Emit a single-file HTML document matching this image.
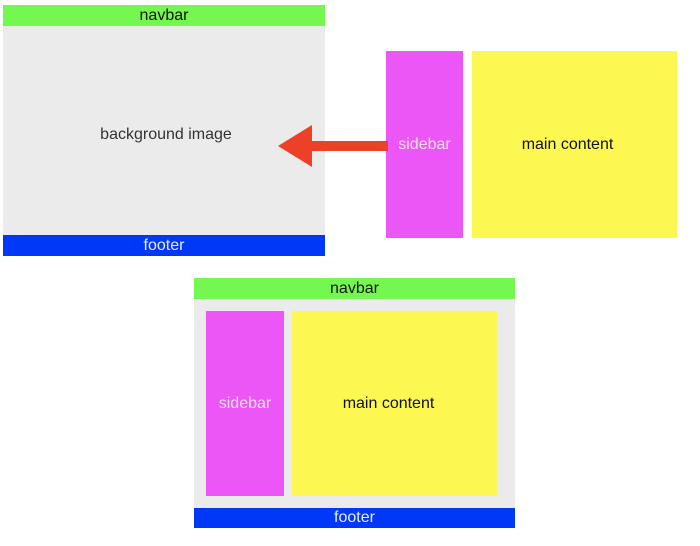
<!DOCTYPE html>
<html><head><style>
body{margin:0;width:700px;height:546px;background:#fff;position:relative;overflow:hidden;font-family:"Liberation Sans","DejaVu Sans",sans-serif;font-size:16px}
div{position:absolute;box-sizing:border-box;display:flex;align-items:center;justify-content:center}
.nav{background:#74f74f;color:#111}
.gray{background:#ebebeb;color:#333}
.foot{background:#0038f8;color:#e8eaff}
.side{background:#ec55f6;color:#fbe0fc}
.main{background:#fdf752;color:#111}
</style></head><body>
<div class="gray" style="left:3px;top:26px;width:322px;height:209px;padding-top:9px;padding-left:4px">background image</div>
<div class="nav" style="left:3px;top:5px;width:322px;height:21px">navbar</div>
<div class="foot" style="left:3px;top:235px;width:322px;height:21px">footer</div>
<div class="side" style="left:386px;top:51px;width:77px;height:187px">sidebar</div>
<div class="main" style="left:472px;top:51px;width:205px;height:187px;padding-right:14px">main content</div>
<svg style="position:absolute;left:0;top:0" width="700" height="546"><polygon points="278,146 312,125 312,141 388,141 388,151 312,151 312,167" fill="#ec4127"/></svg>
<div class="gray" style="left:194px;top:299px;width:321px;height:209px"></div>
<div class="nav" style="left:194px;top:278px;width:321px;height:21px">navbar</div>
<div class="foot" style="left:194px;top:508px;width:321px;height:20px">footer</div>
<div class="side" style="left:206px;top:311px;width:78px;height:185px">sidebar</div>
<div class="main" style="left:292px;top:311px;width:205px;height:185px;padding-right:12px">main content</div>
</body></html>
